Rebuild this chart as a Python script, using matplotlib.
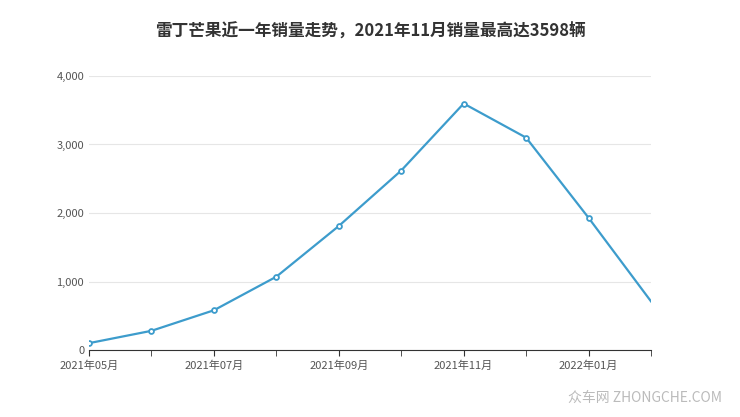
import matplotlib.pyplot as plt

plt.rcParams['font.family'] = ['Noto Sans CJK SC', 'DejaVu Sans']

months = ['2021年05月', '2021年06月', '2021年07月', '2021年08月', '2021年09月',
          '2021年10月', '2021年11月', '2021年12月', '2022年01月', '2022年02月']
sales = [100, 280, 580, 1070, 1810, 2620, 3598, 3100, 1930, 710]

fig = plt.figure(figsize=(7.4, 4.17), dpi=100)
ax = fig.add_axes([89 / 740, 1 - 350 / 417, (651 - 89) / 740, (350 - 76) / 417])

x = list(range(len(months)))
ax.plot(x, sales, color='#3d9ccc', lw=1.6, zorder=3)
ax.plot(x[:-1], sales[:-1], 'o', ms=3.5, mfc='white', mec='#3d9ccc', mew=1.3, zorder=4)

ax.set_xlim(0, len(months) - 1)
ax.set_ylim(0, 4000)
ax.set_yticks(range(0, 4001, 1000))
ax.set_yticklabels([f'{v:,}' for v in range(0, 4001, 1000)])
ax.set_xticks(x, minor=True)
ax.set_xticks(x[::2])
ax.set_xticklabels(months[::2])
ax.grid(axis='y', color='#e6e6e6', lw=0.8)
for s in ['top', 'right', 'left']:
    ax.spines[s].set_visible(False)
ax.spines['bottom'].set_color('#333333')
ax.tick_params(axis='y', length=0, labelsize=8, colors='#555555')
ax.tick_params(axis='x', which='both', length=4, labelsize=8, colors='#555555')
ax.tick_params(axis='x', which='both', color='#333333')

fig.text(0.5, 1 - 32 / 417, '雷丁芒果近一年销量走势，2021年11月销量最高达3598辆',
         ha='center', va='center', fontsize=12, fontweight='bold', color='#333333')
fig.text(0.975, 1 - 398 / 417, '众车网 ZHONGCHE.COM', ha='right', va='center',
         fontsize=10, color='#bbbbbb')

fig.savefig('out.png', dpi=100)
